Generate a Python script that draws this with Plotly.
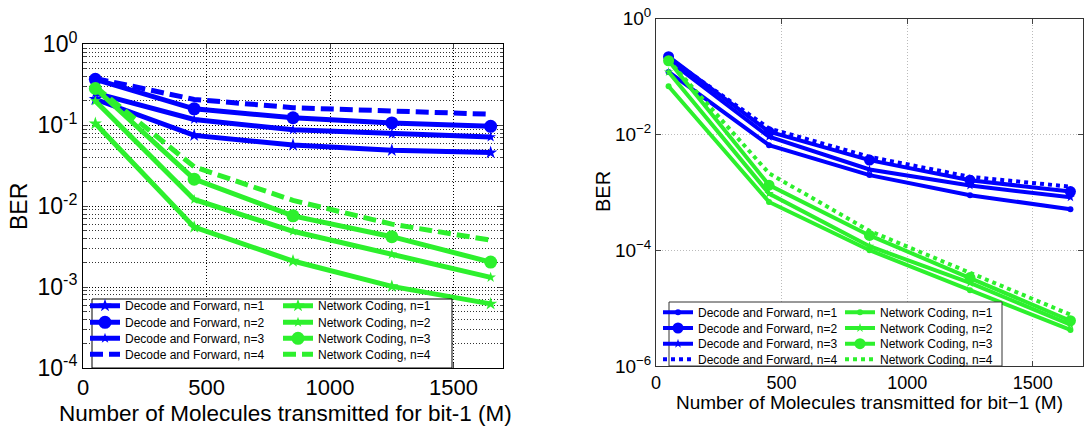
import plotly.graph_objects as go

# number of molecules for bit-1 (M)
molecules = [50, 450, 850, 1250, 1650]

# left panel BER
df_left_n1 = [0.21, 0.075, 0.057, 0.049, 0.046]
df_left_n2 = [0.37, 0.16, 0.124, 0.107, 0.097]
df_left_n3 = [0.25, 0.118, 0.088, 0.078, 0.0715]
df_left_n4 = [0.38, 0.209, 0.165, 0.150, 0.137]
nc_left_n1 = [0.105, 0.0055, 0.0021, 0.00102, 0.00062]
nc_left_n2 = [0.20, 0.0121, 0.0049, 0.00254, 0.00132]
nc_left_n3 = [0.285, 0.0216, 0.0076, 0.0042, 0.00204]
nc_left_n4 = [0.30, 0.0307, 0.0118, 0.0060, 0.0038]

# right panel BER
df_right_n1 = [0.12, 0.0065, 0.00198, 0.00089, 0.00051]
df_right_n2 = [0.22, 0.0111, 0.0036, 0.00162, 0.00103]
df_right_n3 = [0.19, 0.0091, 0.00248, 0.00131, 0.00082]
df_right_n4 = [0.21, 0.0127, 0.0041, 0.00185, 0.00125]
nc_right_n1 = [0.068, 0.00068, 1.0e-4, 2.04e-5, 4.2e-6]
nc_right_n2 = [0.12, 0.00095, 1.17e-4, 2.72e-5, 5.2e-6]
nc_right_n3 = [0.187, 0.00133, 1.8e-4, 3.37e-5, 6.05e-6]
nc_right_n4 = [0.19, 0.00213, 2.16e-4, 4.0e-5, 7.7e-6]

x_ticks = [0, 500, 1000, 1500]
left_y_ticks = [1e-4, 1e-3, 1e-2, 1e-1, 1]
left_y_text = ['10<sup>-4</sup>', '10<sup>-3</sup>', '10<sup>-2</sup>', '10<sup>-1</sup>', '10<sup>0</sup>']
right_y_ticks = [1e-6, 1e-4, 1e-2, 1]
right_y_text = ['10<sup>\u22126</sup>', '10<sup>\u22124</sup>', '10<sup>\u22122</sup>', '10<sup>0</sup>']

BLUE = '#0000FF'
GREEN = '#2DF02D'
FONT = 'Liberation Sans, Arial, sans-serif'
W, H = 1087, 426

def px_x(v):
	return v/W

def px_y(v):
	return 1 - v/H

fig = go.Figure()

# (name, values, color, dash, symbol, size, legend x px, legend row y px)
left_series = [
	('Decode and Forward, n=1', df_left_n1, BLUE, 'solid', 'star', 10, 85, 305.7),
	('Decode and Forward, n=2', df_left_n2, BLUE, 'solid', 'circle', 13, 85, 322.3),
	('Decode and Forward, n=3', df_left_n3, BLUE, 'solid', 'star', 8, 85, 338.3),
	('Decode and Forward, n=4', df_left_n4, BLUE, '13px,6px', 'circle', 1, 85, 354.3),
	('Network Coding, n=1', nc_left_n1, GREEN, 'solid', 'star', 10, 278, 305.7),
	('Network Coding, n=2', nc_left_n2, GREEN, 'solid', 'star', 8, 278, 322.3),
	('Network Coding, n=3', nc_left_n3, GREEN, 'solid', 'circle', 13, 278, 338.3),
	('Network Coding, n=4', nc_left_n4, GREEN, '13px,6px', 'circle', 1, 278, 354.3),
]
right_series = [
	('Decode and Forward, n=1', df_right_n1, BLUE, 'solid', 'circle', 6, 658, 312.3),
	('Decode and Forward, n=2', df_right_n2, BLUE, 'solid', 'circle', 11, 658, 328),
	('Decode and Forward, n=3', df_right_n3, BLUE, 'solid', 'star', 7, 658, 343.7),
	('Decode and Forward, n=4', df_right_n4, BLUE, '4px,4px', 'circle', 1, 658, 359.3),
	('Network Coding, n=1', nc_right_n1, GREEN, 'solid', 'circle', 6, 840, 312.3),
	('Network Coding, n=2', nc_right_n2, GREEN, 'solid', 'star', 7, 840, 328),
	('Network Coding, n=3', nc_right_n3, GREEN, 'solid', 'circle', 11, 840, 343.7),
	('Network Coding, n=4', nc_right_n4, GREEN, '4px,4px', 'circle', 1, 840, 359.3),
]

legends = {}
n = 0
for series, xa, ya, lw in [(left_series, 'x', 'y', 5), (right_series, 'x2', 'y2', 4)]:
	for name, y, color, dash, symbol, size, lx, ly in series:
		n += 1
		key = 'legend' if n == 1 else f'legend{n}'
		fig.add_trace(go.Scatter(
			x = molecules,
			y = y,
			name = name,
			mode = 'lines+markers' if size > 1 else 'lines',
			line = dict(color=color, width=lw, dash=dash),
			marker = dict(symbol=symbol, size=size, color=color),
			xaxis = xa,
			yaxis = ya,
			legend = key,
			showlegend = True,
		))
		legends[key] = dict(
			x = px_x(lx),
			y = px_y(ly),
			xanchor = 'left',
			yanchor = 'middle',
			bgcolor = 'rgba(0,0,0,0)',
			borderwidth = 0,
			font = dict(family=FONT, size=12, color='black'),
			itemwidth = 30,
			visible = True,
		)

axis_common = dict(
	showline = True,
	linecolor = 'black',
	linewidth = 1,
	mirror = 'ticks',
	ticks = 'inside',
	zeroline = False,
	automargin = False,
)

fig.update_layout(
	width = W,
	height = H,
	margin = dict(l=0, r=0, t=0, b=0),
	showlegend = True,
	paper_bgcolor = 'white',
	plot_bgcolor = 'white',
	font = dict(family=FONT, color='black'),
	xaxis = dict(
		axis_common,
		domain = [px_x(83), px_x(503)],
		anchor = 'y',
		range = [0, 1700],
		tickvals = x_ticks,
		tickfont = dict(size=22),
		ticklen = 5,
		showgrid = True,
		gridcolor = 'black',
		griddash = '1px,2px',
		gridwidth = 1,
	),
	yaxis = dict(
		axis_common,
		domain = [px_y(368), px_y(44.4)],
		anchor = 'x',
		type = 'log',
		range = [-4, 0],
		tickvals = left_y_ticks,
		ticktext = left_y_text,
		tickfont = dict(size=23),
		ticklen = 5,
		showgrid = True,
		gridcolor = 'black',
		griddash = '1px,2px',
		gridwidth = 1,
		minor = dict(
			dtick = 'D1',
			showgrid = True,
			gridcolor = '#333333',
			griddash = '1px,2px',
			gridwidth = 1,
			ticks = 'inside',
			ticklen = 3,
		),
	),
	xaxis2 = dict(
		axis_common,
		domain = [px_x(656), px_x(1083)],
		anchor = 'y2',
		range = [0, 1700],
		tickvals = x_ticks,
		tickfont = dict(size=18),
		ticklen = 5,
		showgrid = True,
		gridcolor = '#BBBBBB',
		griddash = '1px,2px',
		gridwidth = 1,
		linecolor = '#333333',
	),
	yaxis2 = dict(
		axis_common,
		domain = [px_y(366), px_y(18.6)],
		anchor = 'x2',
		type = 'log',
		range = [-6, 0],
		tickvals = right_y_ticks,
		ticktext = right_y_text,
		tickfont = dict(size=19),
		ticklen = 5,
		showgrid = True,
		gridcolor = '#BBBBBB',
		griddash = '1px,2px',
		gridwidth = 1,
		linecolor = '#333333',
	),
	**legends,
)

# legend boxes
fig.add_shape(type='rect', xref='paper', yref='paper',
	x0=px_x(92), x1=px_x(452), y0=px_y(368), y1=px_y(299),
	line=dict(color='black', width=1), fillcolor='white', layer='above')
fig.add_shape(type='rect', xref='paper', yref='paper',
	x0=px_x(669), x1=px_x(1002), y0=px_y(366), y1=px_y(302),
	line=dict(color='#333333', width=1), fillcolor='white', layer='above')

# axis titles
fig.add_annotation(text='Number of Molecules transmitted for bit-1 (M)', xref='paper', yref='paper',
	x=px_x(285), y=px_y(413), showarrow=False, font=dict(size=22.5), xanchor='center', yanchor='middle')
fig.add_annotation(text='BER', xref='paper', yref='paper', textangle=-90,
	x=px_x(19), y=px_y(207), showarrow=False, font=dict(size=23), xanchor='center', yanchor='middle')
fig.add_annotation(text='Number of Molecules transmitted for bit\u22121 (M)', xref='paper', yref='paper',
	x=px_x(870), y=px_y(402), showarrow=False, font=dict(size=19), xanchor='center', yanchor='middle')
fig.add_annotation(text='BER', xref='paper', yref='paper', textangle=-90,
	x=px_x(603), y=px_y(192), showarrow=False, font=dict(size=20), xanchor='center', yanchor='middle')

fig.write_html('out.html', config={'displayModeBar': False}, post_script="document.body.style.margin='0px';")
